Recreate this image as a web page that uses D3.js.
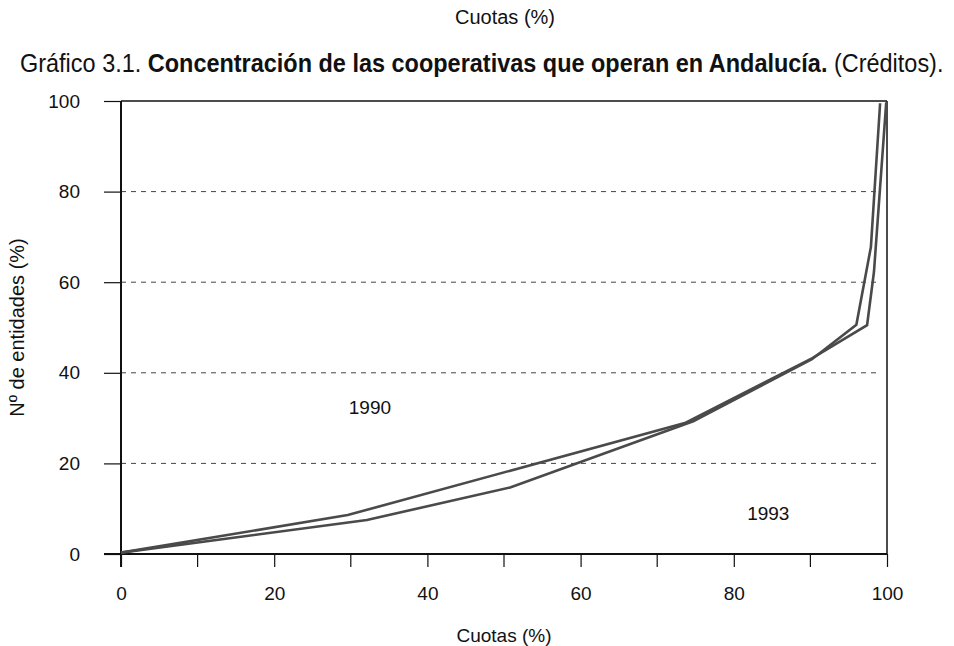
<!DOCTYPE html>
<html>
<head>
<meta charset="utf-8">
<script src="https://cdn.jsdelivr.net/npm/d3@7"></script>
<style>
  html, body { margin: 0; padding: 0; background: #fff; }
  svg { display: block; }
  text { font-family: "Liberation Sans Narrow", "Arial Narrow", "Liberation Sans", sans-serif; fill: #111; }
</style>
</head>
<body>
<svg id="chart" width="954" height="646"></svg>
<script>
// ---- Data ----
const xTickValues = [0, 20, 40, 60, 80, 100];
const xMinorTicks = [10, 30, 50, 70, 90];
const yTickValues = [0, 20, 40, 60, 80, 100];
const gridValues = [20, 40, 60, 80];

const cuotas1990 = [0, 29.6, 73.6, 90.2, 97.4, 98.3, 99.9];
const entidades1990 = [0.3, 8.6, 28.9, 43.2, 50.5, 62.3, 99.7];

const cuotas1993 = [0, 32.1, 50.8, 74.7, 90.2, 96.0, 97.9, 99.1];
const entidades1993 = [0.3, 7.5, 14.7, 29.3, 43.0, 50.6, 67.8, 99.5];

const seriesLabels = ["1990", "1993"];
const labelX = [32.5, 84.5];
const labelY = [32.5, 9];

const topText = "Cuotas (%)";
const titleParts = ["Gráfico 3.1. ", "Concentración de las cooperativas que operan en Andalucía.", " (Créditos)."];
const titleWeights = ["normal", "bold", "normal"];
const xAxisTitle = "Cuotas (%)";
const yAxisTitle = "Nº de entidades (%)";

// ---- Layout ----
const svg = d3.select("#chart");
const mLeft = 121, mRight = 887, mTop = 101, mBottom = 554;

const x = d3.scaleLinear().domain([0, 100]).range([mLeft, mRight]);
const y = d3.scaleLinear().domain([0, 100]).range([mBottom, mTop]);

// top text and title
svg.append("text").attr("x", 505).attr("y", 24).attr("text-anchor", "middle")
  .style("font-size", "20px").text(topText);

const titleG = svg.append("g");
const title = titleG.append("text").attr("x", 0).attr("y", 0).style("font-size", "25px");
title.selectAll("tspan").data(titleParts).join("tspan")
  .style("font-weight", (d, i) => titleWeights[i]).text(d => d);
const titleW = title.node().getComputedTextLength();
const titleScale = Math.min(1, 924 / titleW);
titleG.attr("transform", `translate(20,72) scale(${titleScale},1)`);

// gridlines
svg.append("g").selectAll("line").data(gridValues).join("line")
  .attr("x1", mLeft).attr("x2", mRight - 7)
  .attr("y1", d => y(d)).attr("y2", d => y(d))
  .attr("stroke", "#444").attr("stroke-width", 1)
  .attr("stroke-dasharray", "5,5");

// box (top and right)
svg.append("line").attr("x1", mLeft).attr("x2", mRight).attr("y1", mTop).attr("y2", mTop)
  .attr("stroke", "#111").attr("stroke-width", 1.5);
svg.append("line").attr("x1", mRight).attr("x2", mRight).attr("y1", mTop).attr("y2", mBottom)
  .attr("stroke", "#111").attr("stroke-width", 1.5);

// x axis
const xAxis = d3.axisBottom(x).tickValues(xTickValues).tickSize(13).tickPadding(20)
  .tickFormat(d3.format("d"));
const gx = svg.append("g").attr("transform", `translate(0,${mBottom})`).call(xAxis);
gx.select(".domain").remove();
gx.selectAll(".tick line").attr("stroke", "#111").attr("stroke-width", 1.2);
gx.selectAll(".tick text").style("font-size", "19px").attr("font-family", null).attr("fill", "#111");
gx.append("g").selectAll("line").data(xMinorTicks).join("line")
  .attr("x1", d => x(d)).attr("x2", d => x(d)).attr("y1", 0).attr("y2", 13)
  .attr("stroke", "#111").attr("stroke-width", 1.2);
svg.append("line").attr("x1", mLeft - 17).attr("x2", mRight).attr("y1", mBottom).attr("y2", mBottom)
  .attr("stroke", "#111").attr("stroke-width", 2);

// y axis
const yAxis = d3.axisLeft(y).tickValues(yTickValues).tickSize(17).tickPadding(24)
  .tickFormat(d3.format("d"));
const gy = svg.append("g").attr("transform", `translate(${mLeft},0)`).call(yAxis);
gy.select(".domain").remove();
gy.selectAll(".tick line").attr("stroke", "#111").attr("stroke-width", 1.2);
gy.selectAll(".tick text").style("font-size", "19px").attr("font-family", null).attr("fill", "#111");
svg.append("line").attr("x1", mLeft).attr("x2", mLeft).attr("y1", mTop).attr("y2", mBottom + 13)
  .attr("stroke", "#111").attr("stroke-width", 2);

// axis titles
svg.append("text").attr("x", (mLeft + mRight) / 2).attr("y", 642).attr("text-anchor", "middle")
  .style("font-size", "19px").text(xAxisTitle);
svg.append("text").attr("transform", `translate(24,${(mTop + mBottom) / 2}) rotate(-90)`)
  .attr("text-anchor", "middle").style("font-size", "20px").text(yAxisTitle);

// lines
const line = d3.line().x(d => x(d[0])).y(d => y(d[1]));
const series = [
  d3.zip(cuotas1990, entidades1990),
  d3.zip(cuotas1993, entidades1993)
];
svg.append("g").selectAll("path").data(series).join("path")
  .attr("d", line).attr("fill", "none")
  .attr("stroke", "#4a4a4a").attr("stroke-width", 2.6).attr("stroke-linejoin", "miter");

// series labels
svg.append("g").selectAll("text").data(seriesLabels).join("text")
  .attr("x", (d, i) => x(labelX[i])).attr("y", (d, i) => y(labelY[i]) + 7)
  .attr("text-anchor", "middle").style("font-size", "19px").text(d => d);
</script>
</body>
</html>
